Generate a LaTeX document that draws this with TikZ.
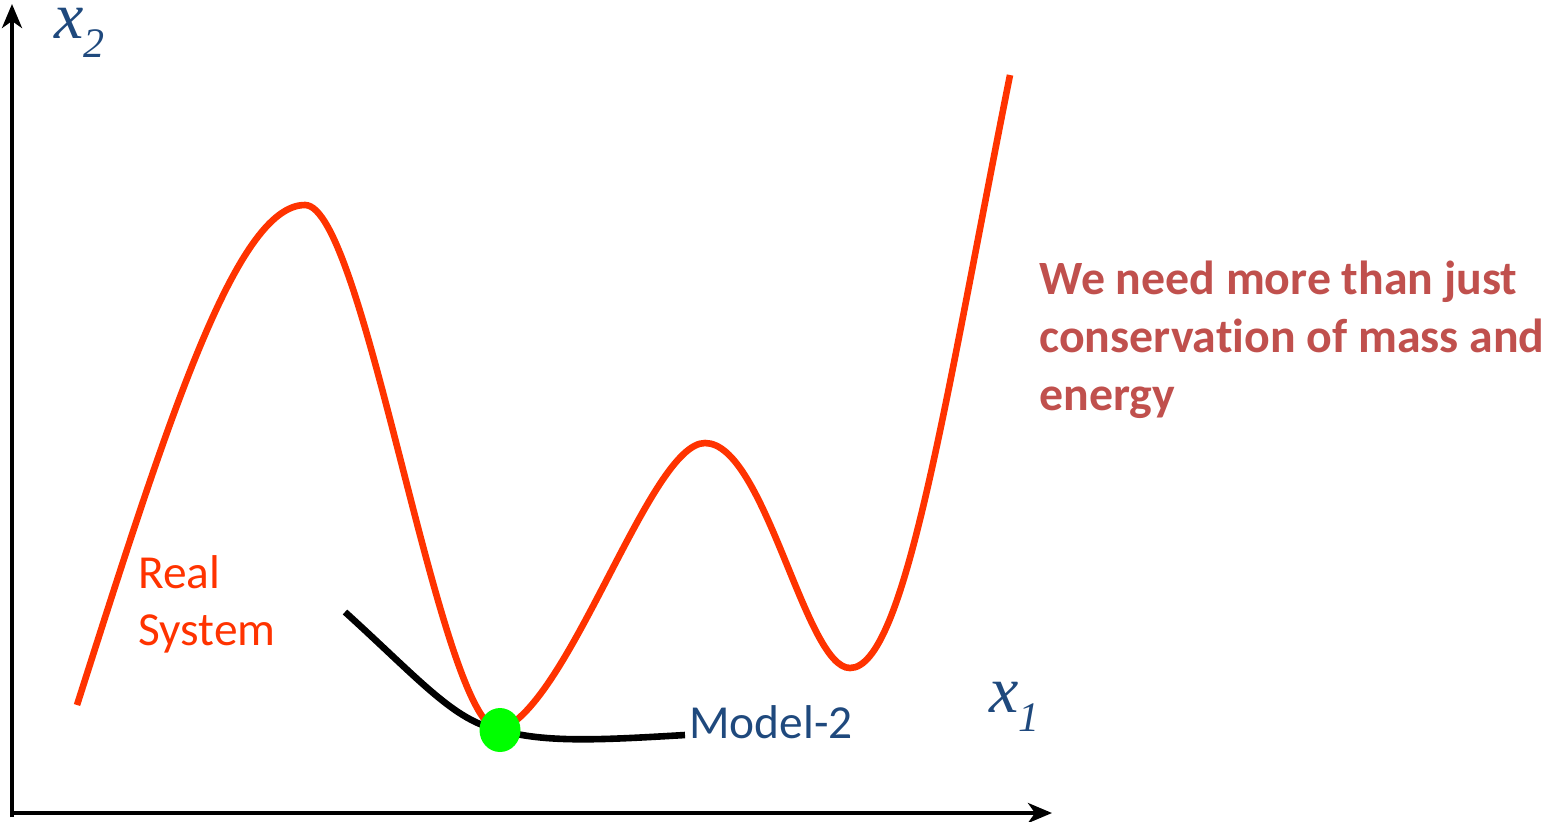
\documentclass[tikz,border=0pt]{standalone}
\usepackage{fontspec}
\setmainfont{Carlito}[Ligatures=NoCommon]
\newfontfamily\axfont{Liberation Serif}
\usetikzlibrary{arrows.meta}
\definecolor{realred}{HTML}{FF3300}
\definecolor{msgred}{HTML}{C0504D}
\definecolor{modblue}{HTML}{1F497D}
\definecolor{dotgreen}{HTML}{00FF00}
\tikzset{
  axis/.style={line width=2pt,-{Stealth[length=12pt,width=10pt,inset=3.5pt]}},
  realcurve/.style={realred,line width=3.3pt},
  modcurve/.style={black,line width=3.3pt},
  axlab/.style={anchor=base west,inner sep=0pt,text height=0.5em,text=modblue,font=\axfont\itshape\fontsize{33}{33}\selectfont},
  lab/.style={anchor=base west,inner sep=0pt,font=\fontsize{23.7}{28.5}\selectfont,align=left},
}
\begin{document}
\begin{tikzpicture}[x=0.5pt,y=-0.5pt]
\useasboundingbox (0,0) rectangle (1557,821);
% axes
\coordinate (ybot) at (12,817);
\coordinate (ytop) at (12,4);
\coordinate (xbeg) at (10,813);
\coordinate (xend) at (1052,813);
\draw[axis] (ybot) -- (ytop);
\draw[axis] (xbeg) -- (xend);
\node[axlab] (x2) at (54,38) {x\raisebox{-0.3em}{\fontsize{21}{21}\selectfont 2}};
\node[axlab] (x1) at (989,712) {x\raisebox{-0.3em}{\fontsize{21}{21}\selectfont 1}};
% real system curve
\coordinate (r0) at (77,705);
\coordinate (p1) at (305,205);
\coordinate (m1) at (500,730);
\coordinate (p2) at (705,443);
\coordinate (m2) at (850,668);
\coordinate (r5) at (1010,75);
\draw[realcurve] (r0) .. controls (165,430) and (235,205) .. (p1)
  .. controls (365,205) and (440,730) .. (m1)
  .. controls (570,705) and (650,443) .. (p2)
  .. controls (765,443) and (805,668) .. (m2)
  .. controls (905,668) and (945,400) .. (r5);
% model curve
\coordinate (k0) at (345,612);
\coordinate (k2) at (685,735);
\draw[modcurve] (k0) .. controls (420,680) and (455,722) .. (m1)
  .. controls (545,743) and (600,740) .. (k2);
\fill[dotgreen] (m1) ellipse [x radius=20.5, y radius=22];
\node[lab,text=realred] (real) at (138,645) {Real\\System};
\node[lab,text=modblue] (model) at (689,738) {Model-2};
\node[lab,text=msgred,font=\bfseries\fontsize{23.9}{29}\selectfont] (msg) at (1039,410) {We need more than just\\conservation of mass and\\energy};
\end{tikzpicture}
\end{document}
